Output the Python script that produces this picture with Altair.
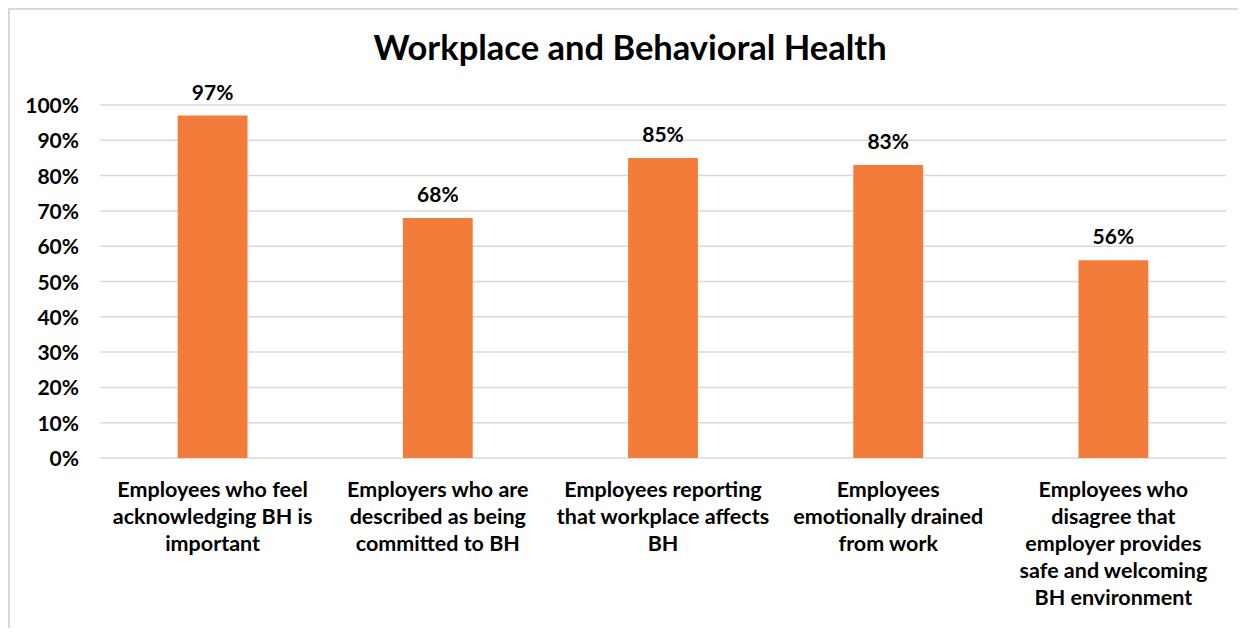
import altair as alt
import pandas as pd

categories = [
    "Employees who feel\nacknowledging BH is\nimportant",
    "Employers who are\ndescribed as being\ncommitted to BH",
    "Employees reporting\nthat workplace affects\nBH",
    "Employees\nemotionally drained\nfrom work",
    "Employees who\ndisagree that\nemployer provides\nsafe and welcoming\nBH environment",
]
values = [0.97, 0.68, 0.85, 0.83, 0.56]
y_ticks = [0.0, 0.1, 0.2, 0.3, 0.4, 0.5, 0.6, 0.7, 0.8, 0.9, 1.0]
y_tick_labels = ["0%", "10%", "20%", "30%", "40%", "50%", "60%", "70%", "80%", "90%", "100%"]
title_text = "Workplace and Behavioral Health"

df = pd.DataFrame({"category": categories, "value": values})
ticks_df = pd.DataFrame({"tick": y_ticks, "label": y_tick_labels})
title_df = pd.DataFrame({"t": [title_text]})

FONT = "Lato"
BAR = "#F37C3A"
GRID = "#D9D9D9"

x_enc = alt.X(
    "category:N",
    sort=categories,
    title=None,
    scale=alt.Scale(paddingInner=0.69, paddingOuter=0.345),
    axis=alt.Axis(
        labelAngle=0,
        labelExpr="split(datum.label, '\\n')",
        labelLineHeight=27,
        labelPadding=21,
        labelFontSize=21.5,
        labelFont=FONT,
        labelFontWeight="bold",
        labelColor="#000000",
        labelLimit=400,
        domain=False,
        ticks=False,
        grid=False,
    ),
)
y_scale = alt.Scale(domain=[0, 1], nice=False)
y_enc = alt.Y("value:Q", title=None, scale=y_scale, axis=None)

grid = alt.Chart(ticks_df).mark_rule(color=GRID, strokeWidth=1.5).encode(
    y=alt.Y("tick:Q", scale=y_scale, axis=None),
    x=alt.value(0),
    x2=alt.value(1126),
)
ylabels = alt.Chart(ticks_df).mark_text(
    align="right", baseline="middle", dy=2, font=FONT, fontSize=21, fontWeight="bold", color="#000000"
).encode(
    y=alt.Y("tick:Q", scale=y_scale, axis=None),
    x=alt.value(-21),
    text="label:N",
)

bars = alt.Chart(df).mark_bar(color=BAR).encode(x=x_enc, y=y_enc)
labels = alt.Chart(df).mark_text(
    dy=-12, baseline="bottom", font=FONT, fontSize=21, fontWeight="bold", color="#000000"
).encode(x=x_enc, y=y_enc, text=alt.Text("value:Q", format=".0%"))

title = alt.Chart(title_df).mark_text(
    align="center", baseline="alphabetic", font=FONT, fontSize=34.5, fontWeight="bold", color="#000000"
).encode(x=alt.value(530), y=alt.value(-45), text="t:N")

frame_top = alt.Chart(title_df).mark_rule(color=GRID, strokeWidth=2).encode(
    x=alt.value(-92), x2=alt.value(1160), y=alt.value(-96)
)
frame_left = alt.Chart(title_df).mark_rule(color=GRID, strokeWidth=2).encode(
    x=alt.value(-91), y=alt.value(-97), y2=alt.value(560)
)

chart = (
    alt.layer(grid, ylabels, bars, labels, title, frame_top, frame_left)
    .properties(
        width=1126,
        height=353,
        autosize=alt.AutoSizeParams(type="none"),
        padding={"left": 92, "top": 97, "right": 12, "bottom": 170},
        background="white",
    )
    .configure_view(stroke=None)
)

chart.save("out.html", embed_options={"renderer": "svg", "actions": False})
